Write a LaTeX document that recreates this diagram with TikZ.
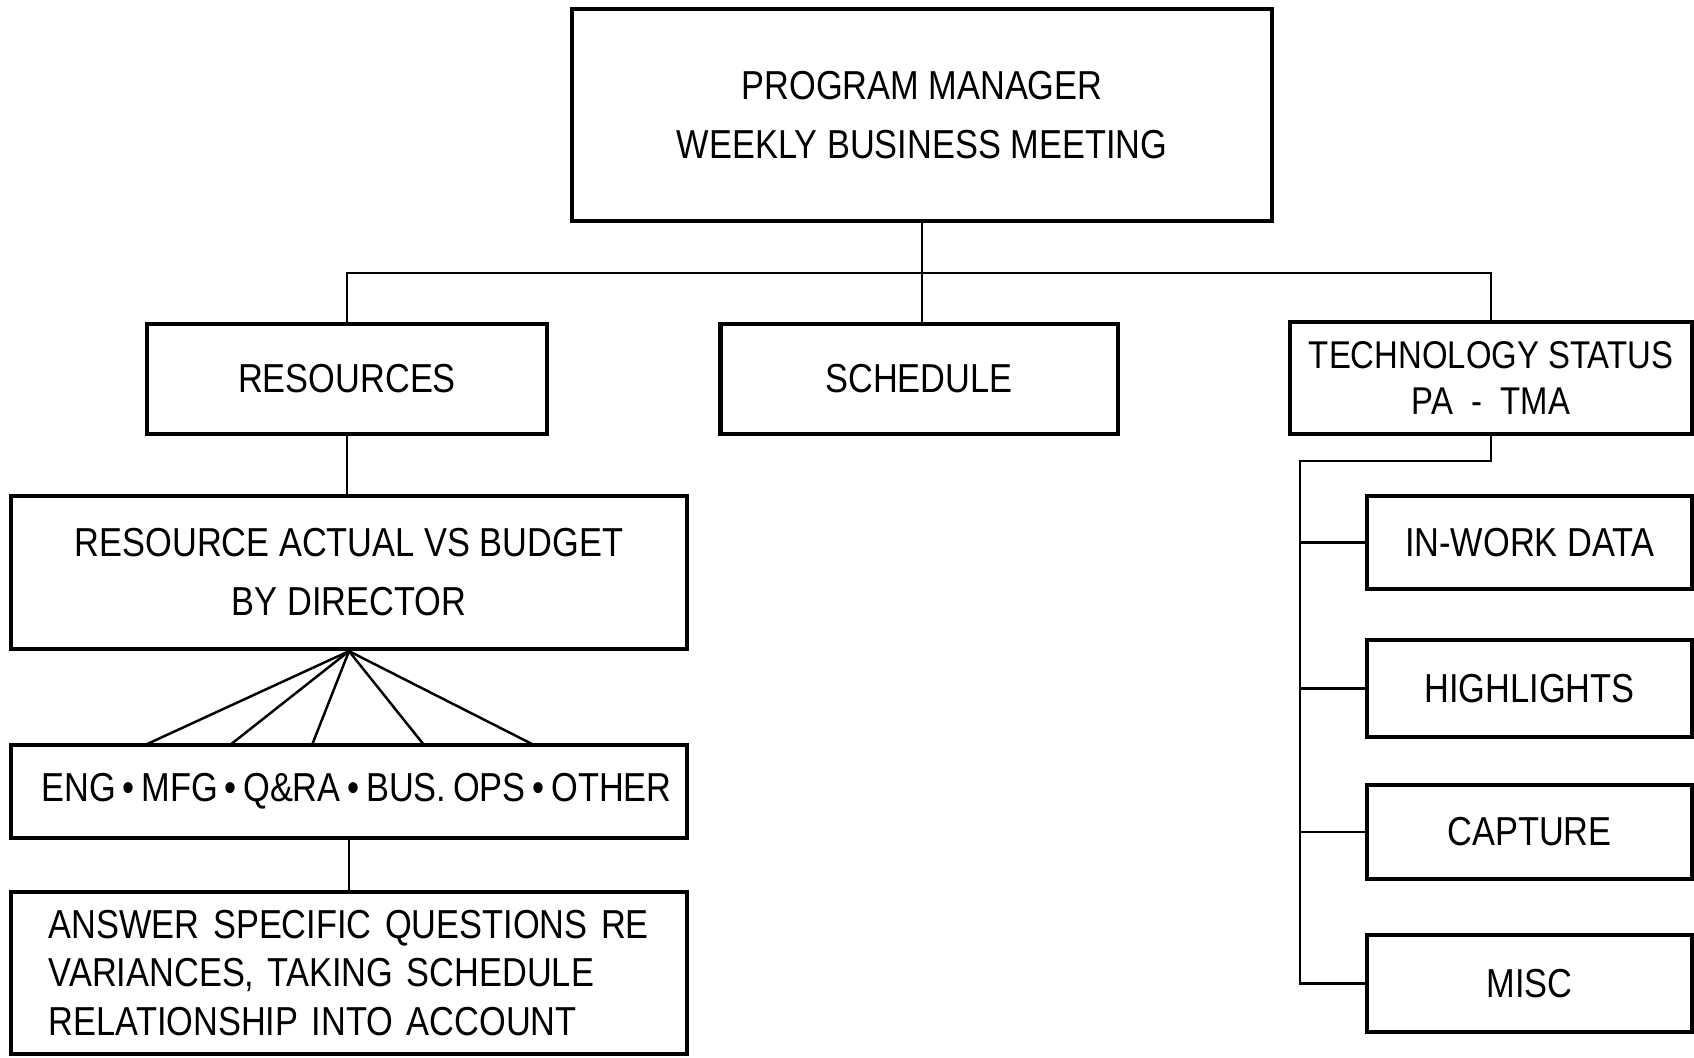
\documentclass[tikz,border=0pt]{standalone}
\usepackage{fontspec}
\setmainfont{Liberation Sans}
\newfontfamily\condsf[FakeStretch=0.85]{Liberation Sans}
\tikzset{
  blk/.style={draw, line width=1.2pt, align=center, inner sep=0pt,
    font=\condsf\fontsize{11.5}{16.8}\selectfont},
  link/.style={line width=0.7pt}
}
\begin{document}
\begin{tikzpicture}[x=0.01cm, y=-0.01cm]
\useasboundingbox (0,0) rectangle (1694,1057);
%top of the chart

\node[blk, minimum width=7cm, minimum height=2.12cm] (meeting) at (922,115) {PROGRAM MANAGER\\WEEKLY BUSINESS MEETING};

%second row

\node[blk, minimum width=4cm, minimum height=1.1cm] (resources) at (347,379) {RESOURCES};
\node[blk, minimum width=3.97cm, minimum height=1.1cm] (schedule) at (919,379) {SCHEDULE};
\node[blk, minimum width=4.02cm, minimum height=1.12cm, font=\condsf\fontsize{11}{13}\selectfont] (techstatus) at (1491,378) {TECHNOLOGY STATUS\\PA\ \ -\ \ TMA};

%resources column

\node[blk, minimum width=6.76cm, minimum height=1.53cm] (actual) at (349,572.5) {RESOURCE ACTUAL VS BUDGET\\BY DIRECTOR};
\node[blk, minimum width=6.76cm, minimum height=0.93cm] (directors) at (349,791.5) {\hspace{0.15cm}ENG\,\textbullet\,MFG\,\textbullet\,Q\&RA\,\textbullet\,BUS.\,OPS\,\textbullet\,OTHER};
\node[blk, minimum width=6.76cm, minimum height=1.62cm, align=left, text width=6cm, font=\condsf\fontsize{11.5}{13.8}\selectfont] (answer) at (349,973) {ANSWER SPECIFIC QUESTIONS RE\\VARIANCES, TAKING SCHEDULE\\RELATIONSHIP INTO ACCOUNT};

%technology column

\node[blk, minimum width=3.25cm, minimum height=0.93cm] (inwork) at (1529.5,542.5) {IN-WORK DATA};
\node[blk, minimum width=3.25cm, minimum height=0.97cm] (highlights) at (1529.5,688.5) {HIGHLIGHTS};
\node[blk, minimum width=3.25cm, minimum height=0.94cm] (capture) at (1529.5,832) {CAPTURE};
\node[blk, minimum width=3.25cm, minimum height=0.97cm] (misc) at (1529.5,983.5) {MISC};

%connectors

\coordinate (bus) at (922,273);
\coordinate (spine) at (1300,461);
\draw[link] (meeting.south) -- (meeting.south |- schedule.north);
\draw[link] (resources.north) |- (bus) -| (techstatus.north);
\draw[link] (resources.south) -- (resources.south |- actual.north);
\foreach \x [count=\i] in {145,230,312,424,534} {
  \coordinate (d\i) at (\x,745);
  \draw[link] (actual.south) -- (d\i);
}
\draw[link] (directors.south) -- (answer.north);
\draw[link] (techstatus.south) |- (spine) -- (spine |- misc.west) -- (misc.west);
\draw[link] (spine |- inwork.west) -- (inwork.west);
\draw[link] (spine |- highlights.west) -- (highlights.west);
\draw[link] (spine |- capture.west) -- (capture.west);
\end{tikzpicture}
\end{document}
